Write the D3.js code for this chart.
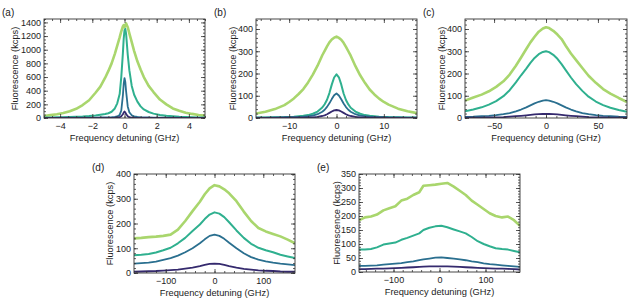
<!DOCTYPE html>
<html lang="en">
<head>
<meta charset="UTF-8">
<title>Fluorescence vs detuning</title>
<script src="https://d3js.org/d3.v7.min.js"></script>
<style>
    body { margin: 0; background: #fff; }
    text { font-family: "Liberation Sans", Arial, sans-serif; fill: #222; }
    .axis path { stroke: none; }
    .axis line { stroke: #333; stroke-width: 0.8px; }
    .axis text { font-size: 9px; fill: #222; }
    .frame { fill: none; stroke: #333; stroke-width: 0.9px; }
    .title { font-size: 9.3px; }
    .plabel { font-size: 10px; }
</style>
</head>
<body>
<div id="chart"></div>
<script>
    // colours of the four traces, light green drawn first
    const colors = ["#a9d66d", "#2fb08f", "#2a6f8f", "#352a6e"];

    // ---- panel (a) ----
    const aX = [-5, -4.6, -4.2, -3.8, -3.4, -3, -2.6, -2.2, -1.8, -1.5,
        -1.2, -1, -0.8, -0.6, -0.45, -0.3, -0.2, -0.1, -0.05, 0,
        0.05, 0.1, 0.2, 0.3, 0.45, 0.6, 0.8, 1, 1.2, 1.5,
        1.8, 2.2, 2.6, 3, 3.4, 3.8, 4.2, 4.6, 5];
    const aGreen = [30, 42, 55, 72, 100, 135, 190, 260, 370, 460,
        590, 690, 800, 940, 1060, 1180, 1270, 1340, 1360, 1330,
        1360, 1385, 1330, 1240, 1110, 980, 830, 710, 600, 470,
        380, 270, 200, 140, 105, 78, 60, 45, 35];
    const aTeal = [8, 9, 10, 12, 14, 17, 21, 28, 38, 48,
        58, 70, 92, 140, 215, 350, 600, 950, 1160, 1285,
        1305, 1230, 930, 700, 470, 340, 240, 170, 125, 88,
        64, 45, 33, 25, 18, 14, 11, 9, 8];
    const aBlue = [3, 3, 3, 4, 4, 4, 5, 5, 6, 7,
        8, 9, 11, 15, 22, 45, 110, 330, 500, 585,
        530, 390, 170, 85, 40, 24, 15, 10, 8, 7,
        6, 5, 5, 4, 4, 3, 3, 3, 3];
    const aPurple = [1, 1, 1, 1, 1, 1, 1, 1, 2, 2,
        2, 2, 3, 4, 6, 12, 25, 55, 80, 95,
        82, 58, 26, 13, 7, 4, 3, 2, 2, 2,
        2, 1, 1, 1, 1, 1, 1, 1, 1];

    // ---- panel (b) ----
    const bX = [-17, -15, -13, -11, -10, -9, -8, -7, -6, -5,
        -4, -3, -2.5, -2, -1.5, -1, -0.5, 0, 0.5, 1,
        1.5, 2, 2.5, 3, 4, 5, 6, 7, 8, 9,
        10, 11, 13, 15, 17];
    const bGreen = [20, 28, 40, 58, 72, 88, 108, 130, 160, 195,
        235, 282, 302, 322, 340, 353, 361, 366, 360, 352,
        338, 320, 300, 280, 233, 192, 158, 128, 106, 87,
        72, 60, 42, 30, 22];
    const bTeal = [2, 2, 3, 4, 5, 6, 8, 10, 13, 19,
        29, 47, 62, 82, 112, 150, 182, 196, 183, 151,
        110, 81, 61, 46, 29, 19, 13, 10, 8, 6,
        5, 4, 3, 2, 2];
    const bBlue = [2, 2, 3, 3, 4, 4, 5, 6, 8, 11,
        17, 28, 37, 50, 66, 85, 102, 110, 101, 84,
        65, 49, 37, 28, 17, 11, 8, 6, 5, 4,
        4, 3, 3, 2, 2];
    const bPurple = [1, 1, 1, 2, 2, 2, 2, 2, 3, 3,
        5, 9, 12, 17, 23, 29, 34, 36, 34, 29,
        23, 17, 12, 9, 5, 3, 3, 2, 2, 2,
        2, 1, 1, 1, 1];

    // ---- panel (c) ----
    const cX = [-78, -70, -62, -55, -48, -41, -35, -29, -24, -19,
        -15, -11, -7, -3, 0, 3, 7, 11, 15, 19,
        24, 29, 35, 41, 48, 55, 62, 70, 78];
    const cGreen = [78, 92, 105, 120, 140, 165, 195, 235, 272, 310,
        340, 365, 388, 402, 408, 404, 392, 375, 355, 325,
        290, 260, 225, 190, 158, 130, 110, 90, 72];
    const cTeal = [30, 38, 48, 60, 76, 98, 125, 160, 192, 222,
        248, 270, 287, 297, 300, 296, 284, 266, 242, 215,
        182, 152, 122, 96, 74, 58, 46, 36, 28];
    const cBlue = [5, 6, 8, 10, 13, 17, 22, 30, 38, 48,
        57, 66, 73, 78, 80, 78, 73, 66, 57, 48,
        38, 30, 22, 17, 13, 10, 8, 6, 5];
    const cPurple = [2, 2, 2, 3, 3, 4, 6, 8, 10, 12,
        14, 16, 17, 18, 18, 18, 17, 16, 14, 12,
        10, 8, 6, 4, 3, 3, 2, 2, 2];

    // ---- panel (d) ----
    const dX = [-165, -150, -135, -120, -105, -90, -75, -60, -45, -30,
        -20, -10, 0, 10, 20, 30, 45, 60, 75, 90,
        105, 120, 135, 150, 165];
    const dGreen = [140, 142, 145, 147, 150, 155, 175, 210, 250, 288,
        318, 342, 355, 350, 338, 322, 290, 248, 210, 182,
        168, 158, 148, 135, 120];
    const dTeal = [72, 74, 77, 83, 92, 102, 120, 142, 170, 196,
        218, 236, 245, 240, 226, 205, 172, 142, 118, 102,
        92, 84, 74, 67, 60];
    const dBlue = [38, 40, 42, 46, 53, 60, 70, 84, 100, 120,
        136, 150, 155, 150, 138, 122, 100, 80, 64, 54,
        47, 42, 38, 35, 32];
    const dPurple = [5, 6, 7, 8, 10, 12, 14, 18, 22, 28,
        33, 37, 38, 37, 33, 28, 22, 17, 14, 11,
        9, 8, 6, 5, 5];

    // ---- panel (e) ----
    const eX = [-175, -162, -149, -136, -122, -109, -96, -83, -70, -57,
        -44, -35, -22, -9, 4, 17, 31, 44, 57, 70,
        83, 96, 109, 122, 136, 149, 162, 175];
    const eGreen = [185, 195, 198, 205, 220, 228, 235, 255, 262, 275,
        285, 308, 310, 312, 315, 318, 305, 290, 275, 255,
        240, 225, 210, 200, 195, 198, 185, 165];
    const eTeal = [80, 80, 82, 88, 98, 102, 105, 115, 122, 130,
        138, 150, 158, 163, 165, 160, 152, 145, 138, 125,
        110, 100, 92, 85, 82, 80, 75, 70];
    const eBlue = [22, 22, 23, 24, 26, 28, 30, 32, 35, 38,
        42, 45, 48, 51, 52, 50, 48, 45, 42, 38,
        35, 31, 28, 26, 24, 22, 20, 18];
    const ePurple = [10, 10, 11, 12, 12, 13, 14, 15, 16, 17,
        18, 19, 20, 20, 20, 20, 19, 18, 17, 16,
        15, 14, 13, 12, 12, 11, 10, 9];

    // layout of each panel (frame box in pixels + axis settings)
    const panels = [
        { label: "(a)", box: [44, 19, 205, 118], xd: [-5, 5], yd: [0, 1450], xt: 2, xm: 0.5, yt: 200, ym: 50, yTitle: 29, x: aX, series: [aGreen, aTeal, aBlue, aPurple] },
        { label: "(b)", box: [256, 19, 417, 118], xd: [-17, 17], yd: [0, 445], xt: 10, xm: 2, yt: 100, ym: 20, yTitle: 23, x: bX, series: [bGreen, bTeal, bBlue, bPurple] },
        { label: "(c)", box: [465, 19, 627, 118], xd: [-78, 78], yd: [0, 445], xt: 50, xm: 10, yt: 100, ym: 20, yTitle: 23, x: cX, series: [cGreen, cTeal, cBlue, cPurple] },
        { label: "(d)", box: [134, 174, 295, 273], xd: [-165, 165], yd: [0, 400], xt: 100, xm: 20, yt: 100, ym: 20, yTitle: 24, x: dX, series: [dGreen, dTeal, dBlue, dPurple] },
        { label: "(e)", box: [359, 174, 520, 272], xd: [-175, 175], yd: [0, 350], xt: 100, xm: 20, yt: 50, ym: 10, yTitle: 22, x: eX, series: [eGreen, eTeal, eBlue, ePurple] }
    ];

    const svg = d3.select("#chart")
        .append("svg")
        .attr("width", 631)
        .attr("height", 303);

    const tickRange = (d, step) => {
        const out = [];
        const start = Math.ceil(d[0] / step - 1e-9);
        const end = Math.floor(d[1] / step + 1e-9);
        for (let i = start; i <= end; i++) out.push(+(i * step).toFixed(6));
        return out;
    };

    panels.forEach((p, idx) => {
        const [x0, y0, x1, y1] = p.box;
        const w = x1 - x0, h = y1 - y0;
        const g = svg.append("g").attr("transform", `translate(${x0},${y0})`);

        const x = d3.scaleLinear().domain(p.xd).range([0, w]);
        const y = d3.scaleLinear().domain(p.yd).range([h, 0]);

        // clip so traces stay inside the frame
        g.append("clipPath").attr("id", "clip" + idx)
            .append("rect").attr("width", w).attr("height", h);

        const line = d3.line()
            .x((d, i) => x(p.x[i]))
            .y(d => y(d));

        const widths = [2.6, 2.0, 1.8, 1.8];
        g.append("g").attr("clip-path", `url(#clip${idx})`)
            .selectAll("path")
            .data(p.series)
            .join("path")
            .attr("d", line)
            .attr("fill", "none")
            .attr("stroke", (d, i) => colors[i])
            .attr("stroke-width", (d, i) => widths[i])
            .attr("stroke-linejoin", "round");

        const xMaj = tickRange(p.xd, p.xt), xMin = tickRange(p.xd, p.xm);
        const yMaj = tickRange(p.yd, p.yt), yMin = tickRange(p.yd, p.ym);

        // bottom (labelled) and top (mirror) x ticks, pointing inward
        g.append("g").attr("class", "axis").attr("transform", `translate(0,${h})`)
            .call(d3.axisBottom(x).tickValues(xMin).tickSize(-2).tickFormat(""));
        g.append("g").attr("class", "axis").attr("transform", `translate(0,${h})`)
            .call(d3.axisBottom(x).tickValues(xMaj.filter(v => v > p.xd[0] && v < p.xd[1]))
                .tickSize(-4).tickPadding(5).tickFormat(d3.format("")));
        g.append("g").attr("class", "axis")
            .call(d3.axisTop(x).tickValues(xMin).tickSize(-2).tickFormat(""));
        g.append("g").attr("class", "axis")
            .call(d3.axisTop(x).tickValues(xMaj).tickSize(-4).tickFormat(""));

        // left (labelled) and right (mirror) y ticks
        g.append("g").attr("class", "axis")
            .call(d3.axisLeft(y).tickValues(yMin).tickSize(-2).tickFormat(""));
        g.append("g").attr("class", "axis")
            .call(d3.axisLeft(y).tickValues(yMaj).tickSize(-4).tickPadding(3).tickFormat(d3.format("")));
        g.append("g").attr("class", "axis").attr("transform", `translate(${w},0)`)
            .call(d3.axisRight(y).tickValues(yMin).tickSize(-2).tickFormat(""));
        g.append("g").attr("class", "axis").attr("transform", `translate(${w},0)`)
            .call(d3.axisRight(y).tickValues(yMaj).tickSize(-4).tickFormat(""));

        g.append("rect").attr("class", "frame").attr("width", w).attr("height", h);

        // axis titles
        g.append("text").attr("class", "title")
            .attr("x", w / 2).attr("y", h + 23)
            .attr("text-anchor", "middle")
            .text("Frequency detuning (GHz)");
        g.append("text").attr("class", "title")
            .attr("transform", `translate(${-p.yTitle},${h / 2}) rotate(-90)`)
            .attr("dy", "0.35em")
            .attr("text-anchor", "middle")
            .text("Fluorescence (kcps)");

        // panel letter
        svg.append("text").attr("class", "plabel")
            .attr("x", x0 - 42).attr("y", y0 - 3)
            .text(p.label);
    });
</script>
</body>
</html>
